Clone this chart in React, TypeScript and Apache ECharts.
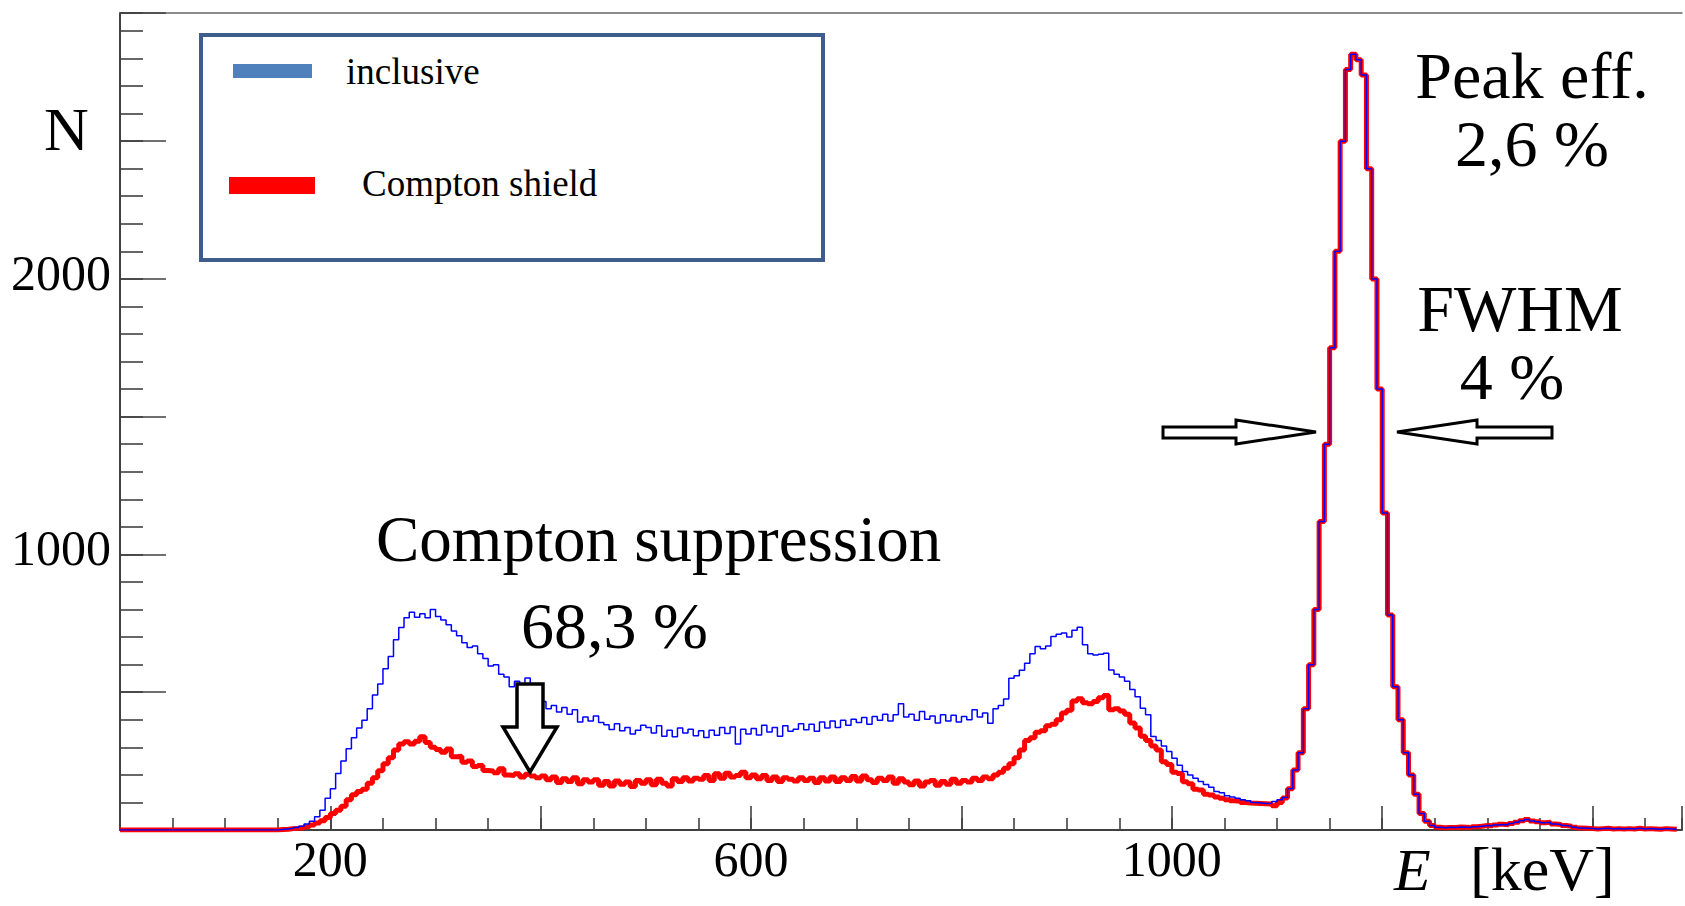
import React, { useEffect, useRef } from "react";
import * as echarts from "echarts";

// Histogram binning (keV)
const binStart = 150;
const binWidth = 5;

// Inclusive spectrum, counts per 5 keV bin starting at 150 keV
const inclusiveCounts = [
  2, 4, 6, 9, 14, 22, 32, 48, 72, 115,
  150, 205, 250, 295, 335, 370, 398, 440, 490, 530,
  585, 630, 690, 735, 770, 790, 772, 785, 770, 800,
  775, 762, 745, 722, 705, 680, 662, 668, 640, 622,
  595, 600, 565, 555, 520, 540, 528, 552, 490, 478,
  466, 440, 452, 428, 445, 420, 436, 392, 410, 396,
  414, 390, 382, 365, 386, 360, 372, 348, 362, 380,
  372, 352, 378, 340, 362, 338, 370, 352, 366, 342,
  360, 336, 362, 344, 372, 350, 374, 312, 366, 348,
  368, 345, 380, 356, 372, 340, 378, 358, 366, 386,
  364, 384, 358, 392, 370, 396, 372, 398, 380, 402,
  390, 408, 384, 412, 398, 420, 396, 418, 458, 410,
  420, 398, 430, 402, 414, 388, 418, 396, 416, 392,
  412, 400, 436, 410, 425, 387, 440, 452, 475, 551,
  560, 580, 605, 640, 666, 658, 668, 702, 710, 715,
  700, 725, 736, 672, 640, 635, 638, 641, 581, 565,
  555, 540, 510, 484, 442, 418, 339, 325, 305, 285,
  260, 235, 212, 200, 188, 176, 165, 155, 140, 135,
  124, 120, 115, 110, 106, 100, 98, 96, 97, 103,
  110, 118, 150, 218, 280, 440, 600, 800, 1120, 1400,
  1750, 2100, 2500, 2760, 2815, 2795, 2740, 2400, 2000, 1600,
  1150, 780, 520, 400, 280, 200, 130, 60, 32, 16,
  10, 8, 10, 9, 11, 10, 9, 12, 14, 16,
  15, 18, 20, 19, 24, 28, 34, 38, 33, 30,
  26, 28, 22, 20, 16, 14, 10, 7, 6, 5,
  4, 5, 6, 4, 5, 4, 5, 4, 6, 4,
  5, 4, 3, 5, 4, 3,
];

// Compton-shield (suppressed) spectrum, same binning
const shieldCounts = [
  2, 3, 5, 6, 8, 12, 18, 25, 34, 45,
  60, 72, 86, 110, 128, 140, 148, 170, 190, 215,
  240, 262, 290, 312, 320, 312, 322, 338, 318, 300,
  292, 282, 294, 266, 268, 246, 250, 230, 234, 216,
  214, 208, 222, 200, 198, 204, 192, 202, 196, 190,
  196, 182, 192, 172, 186, 176, 190, 168, 182, 174,
  182, 162, 176, 160, 178, 166, 174, 158, 180, 170,
  182, 164, 184, 170, 160, 186, 176, 190, 178, 188,
  184, 198, 180, 204, 188, 206, 192, 198, 210, 190,
  200, 186, 198, 180, 192, 176, 190, 184, 178, 190,
  180, 188, 172, 190, 178, 192, 176, 190, 180, 194,
  178, 196, 182, 172, 188, 180, 192, 170, 186, 174,
  164, 178, 160, 174, 180, 162, 176, 166, 184, 170,
  180, 174, 188, 180, 192, 186, 200, 210, 224, 240,
  262, 290, 325, 335, 355, 360, 378, 384, 400, 425,
  435, 468, 476, 462, 458, 466, 480, 488, 436, 440,
  432, 420, 388, 370, 340, 325, 305, 290, 248, 238,
  210, 205, 175, 168, 148, 145, 130, 127, 120, 115,
  110, 106, 104, 100, 98, 97, 96, 95, 94, 88,
  100, 116, 150, 218, 280, 440, 600, 800, 1120, 1400,
  1750, 2100, 2500, 2760, 2815, 2795, 2740, 2400, 2000, 1600,
  1150, 780, 520, 400, 280, 200, 130, 60, 32, 16,
  10, 8, 9, 9, 11, 10, 9, 12, 14, 16,
  15, 18, 21, 19, 24, 28, 34, 38, 33, 30,
  26, 28, 22, 20, 16, 14, 10, 7, 6, 5,
  4, 5, 6, 4, 5, 4, 5, 4, 6, 4,
  5, 4, 3, 5, 4, 3,
];

const xLabelValues = [200, 600, 1000];
const yLabelValues = [1000, 2000];
const xMin = 0;
const xMax = 1485;
const yMin = 0;
const yMax = 2965;

const seriesNames = ["inclusive", "Compton shield"];

function toSteps(counts: number[]): number[][] {
  const pts: number[][] = [[xMin, 0]];
  counts.forEach((v, i) => pts.push([binStart + i * binWidth, v]));
  pts.push([binStart + counts.length * binWidth, counts[counts.length - 1]]);
  return pts;
}

const SERIF = "'Liberation Serif', 'Times New Roman', serif";
const AXIS = "#404040";

export default function App() {
  const ref = useRef<HTMLDivElement>(null);

  useEffect(() => {
    if (!ref.current) return;
    const chart = echarts.init(ref.current, null, { renderer: "svg" });

    const txt = (text: string, x: number, y: number, size: number, align = "left", extra: any = {}) => ({
      type: "text",
      x,
      y,
      z: 100,
      style: {
        text,
        fill: "#000",
        fontFamily: SERIF,
        fontSize: size,
        align,
        verticalAlign: "middle",
        ...extra,
      },
    });

    const arrowStyle = { fill: "#fff", stroke: "#000", lineWidth: 3 };

    const option: any = {
      animation: false,
      backgroundColor: "#fff",
      grid: { left: 120, top: 13, right: 0, bottom: 76, containLabel: false },
      xAxis: [
        {
          type: "value",
          min: xMin,
          max: xMax,
          interval: 50,
          position: "bottom",
          axisLine: { show: true, lineStyle: { color: AXIS, width: 2 } },
          axisTick: { show: true, inside: true, length: 12, lineStyle: { color: AXIS, width: 1.6 } },
          axisLabel: { show: false },
          splitLine: { show: false },
        },
        {
          type: "value",
          min: xMin,
          max: xMax,
          interval: 200,
          position: "bottom",
          axisLine: { show: false },
          axisTick: { show: true, inside: true, length: 24, lineStyle: { color: AXIS, width: 1.6 } },
          axisLabel: {
            show: true,
            margin: 4,
            fontFamily: SERIF,
            fontSize: 50,
            color: "#000",
            formatter: (v: number) => (xLabelValues.includes(v) ? String(v) : ""),
          },
          splitLine: { show: false },
        },
        {
          type: "value",
          min: xMin,
          max: xMax,
          position: "top",
          axisLine: { show: true, lineStyle: { color: "#666", width: 1.5 } },
          axisTick: { show: false },
          axisLabel: { show: false },
          splitLine: { show: false },
        },
      ],
      yAxis: [
        {
          type: "value",
          min: yMin,
          max: yMax,
          interval: 100,
          position: "left",
          axisLine: { show: true, lineStyle: { color: AXIS, width: 2 } },
          axisTick: { show: true, inside: true, length: 23, lineStyle: { color: AXIS, width: 1.6 } },
          axisLabel: { show: false },
          splitLine: { show: false },
        },
        {
          type: "value",
          min: yMin,
          max: yMax,
          interval: 500,
          position: "left",
          axisLine: { show: false },
          axisTick: { show: true, inside: true, length: 46, lineStyle: { color: AXIS, width: 1.6 } },
          axisLabel: {
            show: true,
            margin: 9,
            fontFamily: SERIF,
            fontSize: 50,
            color: "#000",
            verticalAlign: "bottom",
            lineHeight: 12,
            formatter: (v: number) => (yLabelValues.includes(v) ? String(v) : ""),
          },
          splitLine: { show: false },
        },
      ],
      series: [
        {
          name: seriesNames[1],
          type: "line",
          xAxisIndex: 0,
          yAxisIndex: 0,
          step: "end",
          showSymbol: false,
          symbol: "none",
          data: toSteps(shieldCounts),
          lineStyle: { color: "#ff0000", width: 5 },
          z: 2,
        },
        {
          name: seriesNames[0],
          type: "line",
          xAxisIndex: 0,
          yAxisIndex: 0,
          step: "end",
          showSymbol: false,
          symbol: "none",
          data: toSteps(inclusiveCounts),
          lineStyle: { color: "#0000ff", width: 1.5 },
          z: 3,
        },
      ],
      graphic: [
        // legend box
        {
          type: "rect",
          z: 90,
          shape: { x: 201, y: 35, width: 622, height: 225 },
          style: { fill: "#fff", stroke: "#3E5D8C", lineWidth: 4 },
        },
        {
          type: "rect",
          z: 95,
          shape: { x: 233, y: 64, width: 79, height: 14 },
          style: { fill: "#4F81BD" },
        },
        {
          type: "rect",
          z: 95,
          shape: { x: 229, y: 177, width: 86, height: 17 },
          style: { fill: "#ff0000" },
        },
        txt(seriesNames[0], 346, 71, 37),
        txt(seriesNames[1], 362, 183, 37),
        // axis titles
        txt("N", 44, 129, 62),
        txt("E", 1394, 870, 60, "left", { fontStyle: "italic" }),
        txt("[keV]", 1470, 869, 62),
        // annotations
        txt("Peak eff.", 1532, 75, 66, "center"),
        txt("2,6 %", 1532, 143, 66, "center"),
        txt("FWHM", 1520, 308, 66, "center"),
        txt("4 %", 1512, 376, 66, "center"),
        txt("Compton suppression", 376, 539, 65),
        txt("68,3 %", 521, 625, 66),
        // arrows
        {
          type: "polygon",
          z: 100,
          shape: {
            points: [[1163, 427], [1236, 427], [1236, 420], [1316, 432], [1236, 444], [1236, 438], [1163, 438]],
          },
          style: arrowStyle,
        },
        {
          type: "polygon",
          z: 100,
          shape: {
            points: [[1552, 427], [1477, 427], [1477, 420], [1397, 432], [1477, 444], [1477, 438], [1552, 438]],
          },
          style: arrowStyle,
        },
        {
          type: "polygon",
          z: 100,
          shape: {
            points: [[517, 684], [543, 684], [543, 727], [557, 727], [530, 772], [503, 727], [517, 727]],
          },
          style: { fill: "#fff", stroke: "#000", lineWidth: 3.5 },
        },
      ],
    };

    chart.setOption(option);
    return () => chart.dispose();
  }, []);

  return (
    <div
      ref={ref}
      style={{ position: "absolute", left: 0, top: 0, width: 1685, height: 906, background: "#fff" }}
    />
  );
}
